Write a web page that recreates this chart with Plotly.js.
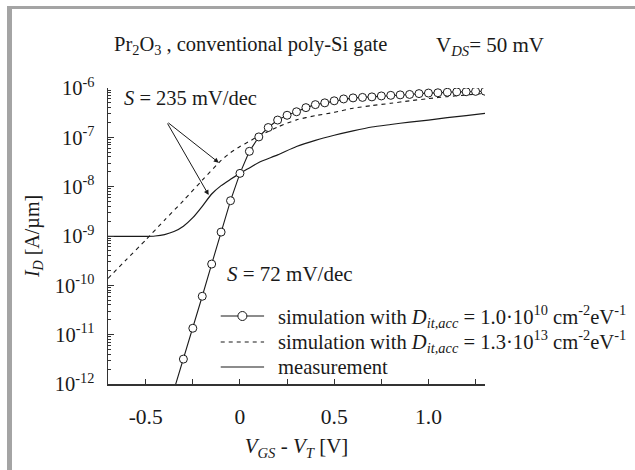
<!DOCTYPE html>
<html>
<head>
<meta charset="utf-8">
<script src="https://cdn.plot.ly/plotly-3.0.1.min.js"></script>
<style>
  html, body { margin: 0; padding: 0; background: #ffffff; }
  #wrap { position: relative; width: 635px; height: 470px; }
  #chart { width: 635px; height: 470px; }
  #frame { position: absolute; left: 7px; top: 6px; width: 628px; height: 464px;
           border-left: 5px solid #a4a4a4; border-top: 3px solid #a4a4a4;
           box-sizing: border-box; pointer-events: none; }
</style>
</head>
<body>
<div id="wrap">
  <div id="chart"></div>
  <div id="frame"></div>
</div>
<script>
// ---- data (x: V_GS - V_T in V, y: I_D in A/um) ----
const simLowX = [-0.35, -0.30, -0.25, -0.20, -0.15, -0.10, -0.05, 0.00, 0.05, 0.10, 0.15, 0.20,
                 0.25, 0.30, 0.35, 0.40, 0.45, 0.50, 0.55, 0.60, 0.65, 0.70, 0.75, 0.80,
                 0.85, 0.90, 0.95, 1.00, 1.05, 1.10, 1.15, 1.20, 1.25, 1.30];
const simLowY = [7.6e-13, 3.2e-12, 1.35e-11, 6.0e-11, 2.7e-10, 1.2e-9, 5.2e-9, 1.86e-8, 5.2e-8, 1.02e-7, 1.58e-7, 2.24e-7,
                 2.8e-7, 3.3e-7, 4.0e-7, 4.6e-7, 5.0e-7, 5.5e-7, 6.0e-7, 6.3e-7, 6.45e-7, 6.6e-7, 6.9e-7, 7.1e-7,
                 7.25e-7, 7.4e-7, 7.7e-7, 7.9e-7, 8.0e-7, 8.2e-7, 8.35e-7, 8.4e-7, 8.55e-7, 8.6e-7];

const simHighX = [-0.7, -0.6, -0.5, -0.4, -0.3, -0.2, -0.1, -0.05, 0.0, 0.05, 0.1, 0.15, 0.2,
                  0.3, 0.4, 0.5, 0.6, 0.7, 0.8, 0.9, 1.0, 1.1, 1.2, 1.3];
const simHighY = [1.38e-10, 3.4e-10, 8.3e-10, 2.1e-9, 5.2e-9, 1.35e-8, 3.4e-8, 4.9e-8, 6.5e-8, 8.3e-8, 1.07e-7, 1.32e-7, 1.62e-7,
                  2.26e-7, 2.75e-7, 3.2e-7, 3.9e-7, 4.4e-7, 4.9e-7, 5.5e-7, 6.1e-7, 6.7e-7, 7.2e-7, 7.85e-7];

const measX = [-0.7, -0.6, -0.5, -0.45, -0.4, -0.35, -0.3, -0.25, -0.2, -0.15, -0.1, -0.05, 0.0, 0.05, 0.1,
               0.2, 0.3, 0.4, 0.5, 0.6, 0.7, 0.8, 0.9, 1.0, 1.1, 1.2, 1.3];
const measY = [9.8e-10, 9.8e-10, 9.8e-10, 1.0e-9, 1.07e-9, 1.23e-9, 1.58e-9, 2.35e-9, 4.0e-9, 7.1e-9, 1.05e-8, 1.41e-8, 1.86e-8, 2.4e-8, 3.1e-8,
               4.4e-8, 6.5e-8, 8.7e-8, 1.1e-7, 1.35e-7, 1.62e-7, 1.82e-7, 2.04e-7, 2.24e-7, 2.5e-7, 2.75e-7, 3.05e-7];

const xTickVals = [-0.5, 0, 0.5, 1.0];
const xTickText = ['-0.5', '0', '0.5', '1.0'];
const xMinorVals = [-0.25, 0.25, 0.75, 1.25];
const yExponents = [-12, -11, -10, -9, -8, -7, -6];

const names = [
  'simulation with <i>D</i><sub><i>it,acc</i></sub> = 1.0·10<sup>10</sup> cm<sup>-2</sup>eV<sup>-1</sup>',
  'simulation with <i>D</i><sub><i>it,acc</i></sub> = 1.3·10<sup>13</sup> cm<sup>-2</sup>eV<sup>-1</sup>',
  'measurement'
];

// ---- build ticks ----
const yTickVals = yExponents.map(e => Math.pow(10, e));
const yTickText = yExponents.map(e => '10<sup>' + e + '</sup>');
const yMinorVals = [];
for (let e = -12; e < -6; e++) {
  for (let m = 2; m <= 9; m++) yMinorVals.push(m * Math.pow(10, e));
}

const FONT = 'Liberation Serif, Times New Roman, serif';
const INK = '#1a1a1a';

const traces = [
  {
    x: measX, y: measY, name: names[2], type: 'scatter', mode: 'lines',
    line: { color: INK, width: 1.2, shape: 'spline', smoothing: 0.6 }
  },
  {
    x: simHighX, y: simHighY, name: names[1], type: 'scatter', mode: 'lines',
    line: { color: INK, width: 1.1, dash: '4px,4px', shape: 'spline', smoothing: 0.6 }
  },
  {
    x: simLowX, y: simLowY, name: names[0], type: 'scatter', mode: 'lines+markers',
    line: { color: INK, width: 1.1 },
    marker: { symbol: 'circle', size: 8, color: '#ffffff', line: { color: INK, width: 1 } }
  }
];

// ---- legend key (drawn as a key box, rows in paper units) ----
const legendRowsY = [0.2297, 0.1419, 0.0574];
const legendLineX = [0.299, 0.414];
const legendTextX = 0.4456;
const legendDash = ['solid', '4px,4px', 'solid'];

const shapes = [];
const annotations = [
  { xref: 'paper', yref: 'paper', x: 0.01, y: 1.142, xanchor: 'left', yanchor: 'middle', showarrow: false,
    text: 'Pr<sub>2</sub>O<sub>3</sub> , conventional poly-Si gate', font: { family: FONT, size: 20.5, color: INK } },
  { xref: 'paper', yref: 'paper', x: 0.864, y: 1.142, xanchor: 'left', yanchor: 'middle', showarrow: false,
    text: 'V<sub><i>DS</i></sub>= 50 mV', font: { family: FONT, size: 21, color: INK } },
  { xref: 'paper', yref: 'paper', x: 0.036, y: 0.966, xanchor: 'left', yanchor: 'middle', showarrow: false,
    text: '<i>S</i> = 235 mV/dec', font: { family: FONT, size: 20.5, color: INK } },
  { xref: 'paper', yref: 'paper', x: 0.31, y: 0.373, xanchor: 'left', yanchor: 'middle', showarrow: false,
    text: '<i>S</i> = 72 mV/dec', font: { family: FONT, size: 21, color: INK } },
  { x: -0.112, y: -7.514, xref: 'x', yref: 'y', text: '', showarrow: true,
    ax: -52, ay: -41, arrowhead: 2, arrowsize: 1, arrowwidth: 1, arrowcolor: INK },
  { x: -0.166, y: -8.169, xref: 'x', yref: 'y', text: '', showarrow: true,
    ax: -42, ay: -73, arrowhead: 2, arrowsize: 1, arrowwidth: 1, arrowcolor: INK }
];
for (let i = 0; i < 3; i++) {
  shapes.push({ type: 'line', xref: 'paper', yref: 'paper', x0: legendLineX[0], x1: legendLineX[1],
                y0: legendRowsY[i], y1: legendRowsY[i], line: { color: INK, width: 1.1, dash: legendDash[i] } });
  annotations.push({ xref: 'paper', yref: 'paper', x: legendTextX, y: legendRowsY[i], xanchor: 'left', yanchor: 'middle',
                     showarrow: false, text: names[i], font: { family: FONT, size: 20.6, color: INK } });
}
shapes.push({ type: 'circle', xref: 'paper', yref: 'paper', xsizemode: 'pixel', ysizemode: 'pixel',
              xanchor: (legendLineX[0] + legendLineX[1]) / 2, yanchor: legendRowsY[0],
              x0: -4.5, x1: 4.5, y0: -4.5, y1: 4.5, fillcolor: '#ffffff', line: { color: INK, width: 1 } });

const layout = {
  width: 635, height: 470,
  margin: { l: 108, r: 150, t: 88, b: 86 },
  paper_bgcolor: '#ffffff', plot_bgcolor: '#ffffff',
  font: { family: FONT, size: 19, color: INK },
  showlegend: false,
  xaxis: {
    range: [-0.7, 1.3], showgrid: false, zeroline: false,
    showline: true, linecolor: '#333', linewidth: 1.5, mirror: false,
    ticks: 'inside', ticklen: 5, tickcolor: '#333', tickwidth: 1,
    tickmode: 'array', tickvals: xTickVals, ticktext: xTickText,
    ticklabelstandoff: 13,
    minor: { tickmode: 'array', tickvals: xMinorVals, ticks: 'inside', ticklen: 5, tickcolor: '#333', showgrid: false },
    tickfont: { family: FONT, size: 21.5, color: INK },
    title: { text: '<i>V</i><sub><i>GS</i></sub> - <i>V</i><sub><i>T</i></sub> [V]', font: { family: FONT, size: 21, color: INK }, standoff: 10 }
  },
  yaxis: {
    type: 'log', range: [-12, -6], showgrid: false, zeroline: false,
    showline: true, linecolor: '#333', linewidth: 1.5, mirror: false,
    ticks: 'inside', ticklen: 6, tickcolor: '#333', tickwidth: 1,
    tickmode: 'array', tickvals: yTickVals, ticktext: yTickText,
    ticklabelstandoff: 8,
    minor: { tickmode: 'array', tickvals: yMinorVals, ticks: 'inside', ticklen: 3, tickcolor: '#333', showgrid: false },
    tickfont: { family: FONT, size: 20.5, color: INK },
    title: { text: '<i>I</i><sub><i>D</i></sub> [A/µm]', font: { family: FONT, size: 20, color: INK }, standoff: 10 }
  },
  shapes: shapes,
  annotations: annotations
};

Plotly.newPlot('chart', traces, layout, { displayModeBar: false, staticPlot: true });
</script>
</body>
</html>
